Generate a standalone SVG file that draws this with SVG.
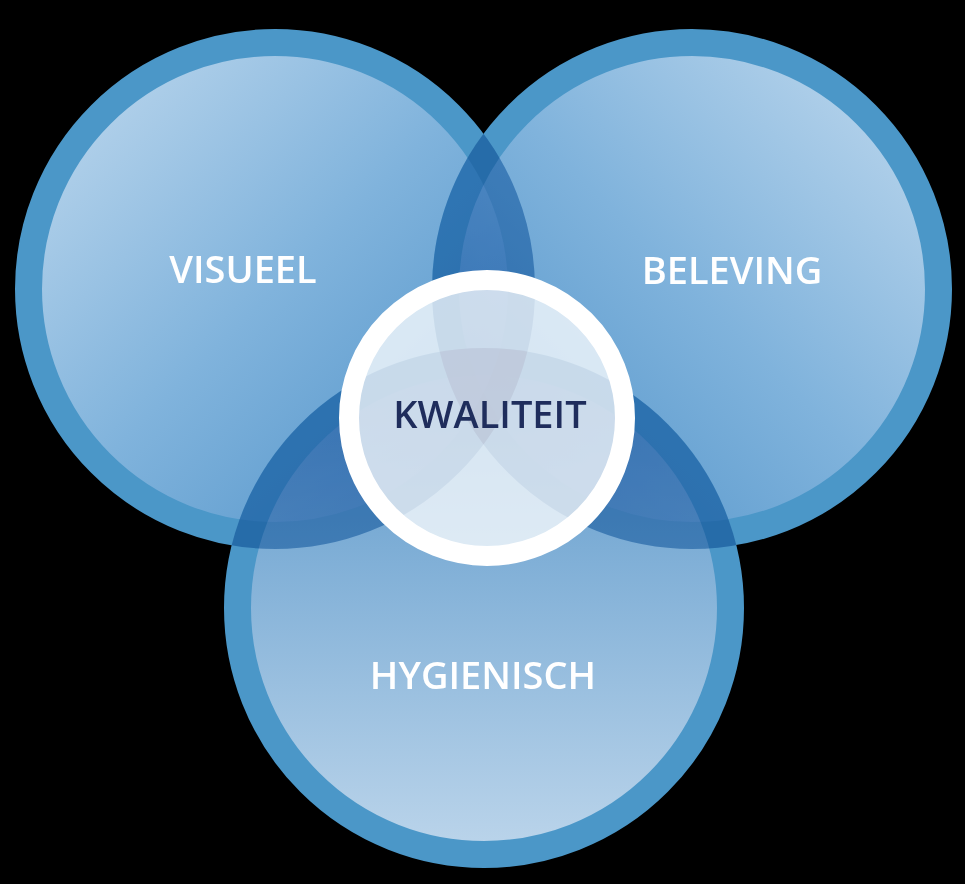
<svg xmlns="http://www.w3.org/2000/svg" xmlns:xlink="http://www.w3.org/1999/xlink" width="965" height="884" viewBox="0 0 965 884">
<style>
.ring{stroke:#4b97c8;stroke-width:27}
.lbl{font-family:"Open Sans","Liberation Sans",sans-serif;font-weight:600;font-size:38px;fill:#ffffff;text-anchor:middle}
.center-lbl{font-family:"Open Sans","Liberation Sans",sans-serif;font-weight:600;font-size:38px;fill:#1f2d5c;text-anchor:middle}
.ov{mix-blend-mode:multiply;opacity:0.7}
</style>
<defs>
<linearGradient id="gL" x1="0" y1="0" x2="1" y2="1">
<stop offset="0" stop-color="#c3dbef"/>
<stop offset="0.5" stop-color="#80b3dc"/>
<stop offset="1" stop-color="#4a8ec6"/>
</linearGradient>
<linearGradient id="gR" x1="1" y1="0" x2="0" y2="1">
<stop offset="0" stop-color="#c3dbef"/>
<stop offset="0.5" stop-color="#80b3dc"/>
<stop offset="1" stop-color="#4a8ec6"/>
</linearGradient>
<linearGradient id="gB" x1="0" y1="0" x2="0" y2="1">
<stop offset="0" stop-color="#5896c9"/>
<stop offset="1" stop-color="#bcd5eb"/>
</linearGradient>
<circle id="shapeL" cx="275" cy="289" r="246.5" fill="url(#gL)" class="ring"/>
<circle id="shapeR" cx="692" cy="289" r="246.5" fill="url(#gR)" class="ring"/>
<circle id="shapeB" cx="484" cy="608" r="246.5" fill="url(#gB)" class="ring"/>
<clipPath id="clipR"><circle cx="692" cy="289" r="260"/></clipPath>
<clipPath id="clipB"><circle cx="484" cy="608" r="260"/></clipPath>
</defs>
<rect x="0" y="0" width="965" height="884" fill="#000000"/>
<g id="visueel">
<use xlink:href="#shapeL"/>
<text class="lbl" x="243" y="283">VISUEEL</text>
</g>
<g id="beleving">
<use xlink:href="#shapeR"/>
<text class="lbl" x="732" y="284">BELEVING</text>
</g>
<g id="hygienisch">
<use xlink:href="#shapeB"/>
<text class="lbl" x="483" y="689">HYGIENISCH</text>
</g>
<g id="overlaps">
<use xlink:href="#shapeL" clip-path="url(#clipR)" class="ov"/>
<use xlink:href="#shapeL" clip-path="url(#clipB)" class="ov"/>
<use xlink:href="#shapeR" clip-path="url(#clipB)" class="ov"/>
</g>
<g id="kwaliteit">
<circle cx="487" cy="418" r="138" fill="#ffffff" fill-opacity="0.74" stroke="#ffffff" stroke-width="20"/>
<text class="center-lbl" x="490" y="428">KWALITEIT</text>
</g>
</svg>
